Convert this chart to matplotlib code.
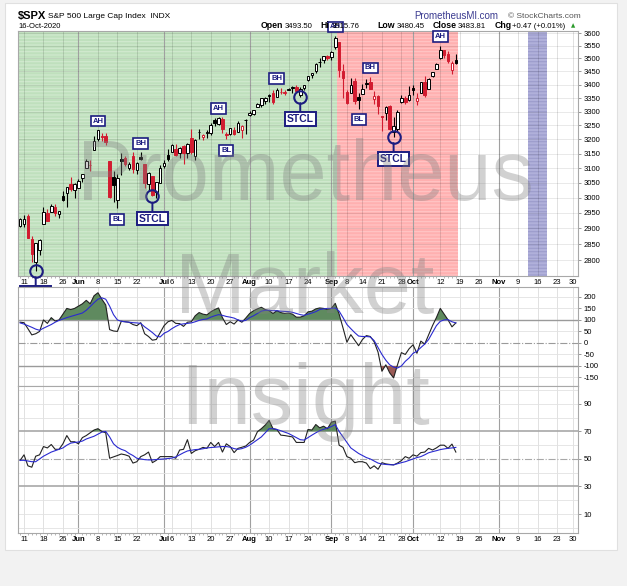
import matplotlib.pyplot as plt
import matplotlib.patches as mpatches
from matplotlib.ticker import NullLocator, NullFormatter
import numpy as np
import pandas as pd

# ---------------- data ----------------
holidays = ['2020-05-25', '2020-07-03', '2020-09-07', '2020-11-26']
prev_close = 2881.19

opens = [2908.83, 2915.46, 2939.50, 2865.86, 2794.54, 2829.95, 2913.86, 2948.59, 2953.63, 2969.95, 2948.05,
         3004.08, 3015.65, 3046.61, 3025.17,
         3031.00, 3064.78, 3098.90, 3111.56, 3163.84, 3199.92, 3213.32, 3213.42, 3123.53, 3071.04,
         2993.76, 3131.00, 3136.13, 3101.64, 3140.29, 3094.42, 3138.70, 3114.40, 3046.60, 3073.20,
         3018.59, 3050.20,
         3105.92, 3143.64, 3155.29, 3166.44, 3153.07, 3176.17, 3152.47, 3205.08, 3141.11, 3225.98,
         3208.36, 3224.21, 3224.29, 3268.52, 3254.86, 3271.64, 3218.58, 3219.84, 3234.27, 3227.22,
         3231.76, 3270.45,
         3288.26, 3289.92, 3317.37, 3323.17, 3340.05, 3356.04, 3370.34, 3355.46, 3372.95, 3368.66,
         3380.86, 3387.04, 3392.51, 3360.48, 3386.01, 3418.09, 3435.95, 3449.97, 3485.14, 3494.69,
         3509.73,
         3507.44, 3543.76, 3564.74, 3453.60, 3371.88, 3369.82, 3412.56, 3352.70, 3363.56, 3407.73,
         3411.23, 3346.86, 3357.38, 3285.57, 3295.75, 3320.11, 3226.14, 3236.66, 3333.90, 3350.92,
         3341.21,
         3385.87, 3338.94, 3367.27, 3408.74, 3384.56, 3434.28, 3459.67, 3500.02, 3534.01, 3515.47,
         3453.72, 3493.50]
highs = [2932.16, 2944.25, 2945.82, 2874.14, 2852.80, 2865.01, 2968.09, 2964.21, 2980.29, 2978.50, 2956.76,
         3021.72, 3036.25, 3068.67, 3049.17,
         3062.18, 3081.07, 3130.94, 3128.91, 3211.72, 3233.13, 3222.71, 3223.27, 3123.53, 3088.42,
         3079.76, 3153.45, 3141.16, 3120.00, 3155.53, 3120.92, 3154.90, 3115.01, 3086.25, 3073.73,
         3053.89, 3111.51,
         3128.44, 3165.81, 3182.59, 3184.15, 3171.80, 3179.78, 3186.82, 3235.32, 3200.95, 3238.28,
         3220.39, 3233.52, 3258.61, 3277.29, 3279.32, 3279.99, 3227.26, 3241.43, 3243.72, 3264.74,
         3250.92, 3272.17,
         3302.73, 3306.84, 3330.77, 3351.03, 3352.54, 3363.29, 3381.01, 3387.89, 3387.24, 3378.51,
         3387.59, 3395.06, 3399.54, 3390.80, 3399.96, 3432.09, 3444.21, 3481.07, 3501.38, 3509.23,
         3514.77,
         3528.03, 3588.11, 3564.85, 3479.15, 3379.97, 3424.77, 3425.55, 3368.95, 3402.93, 3419.48,
         3428.92, 3375.17, 3362.27, 3285.57, 3320.31, 3323.35, 3278.70, 3306.88, 3360.74, 3357.92,
         3393.56,
         3397.18, 3369.10, 3409.57, 3431.56, 3426.26, 3447.28, 3482.34, 3549.85, 3534.01, 3527.94,
         3489.08, 3515.76]
lows = [2902.88, 2903.44, 2869.59, 2793.15, 2766.64, 2816.78, 2913.86, 2922.35, 2953.63, 2938.57, 2933.59,
        2988.17, 2969.75, 3023.40, 2998.61,
        3031.00, 3051.64, 3098.90, 3090.41, 3163.84, 3196.00, 3193.11, 3181.49, 2999.49, 2984.47,
        2965.66, 3076.06, 3108.03, 3093.51, 3083.11, 3079.39, 3127.12, 3032.13, 3024.01, 3004.63,
        2999.74, 3047.83,
        3101.17, 3124.52, 3155.29, 3142.93, 3136.53, 3115.70, 3136.22, 3149.43, 3127.66, 3200.76,
        3198.59, 3205.65, 3215.16, 3247.77, 3253.10, 3222.66, 3200.05, 3214.25, 3216.17, 3227.22,
        3204.13, 3220.26,
        3284.53, 3286.37, 3317.37, 3318.14, 3328.72, 3335.44, 3326.44, 3355.46, 3363.35, 3361.64,
        3379.22, 3370.15, 3369.66, 3354.69, 3379.31, 3413.13, 3425.84, 3444.15, 3468.35, 3484.32,
        3493.25,
        3494.60, 3535.23, 3427.41, 3349.63, 3329.27, 3366.84, 3329.25, 3310.47, 3363.56, 3389.25,
        3384.45, 3328.82, 3292.40, 3229.10, 3270.95, 3232.57, 3209.45, 3228.44, 3332.91, 3327.54,
        3340.47,
        3361.39, 3323.69, 3367.27, 3354.54, 3384.56, 3428.15, 3458.07, 3499.61, 3500.86, 3480.55,
        3440.89, 3480.45]
closes = [2929.80, 2930.32, 2870.12, 2820.00, 2852.50, 2863.70, 2953.91, 2922.94, 2971.61, 2948.51, 2955.45,
          2991.77, 3036.13, 3029.73, 3044.31,
          3055.73, 3080.82, 3122.87, 3112.35, 3193.93, 3232.39, 3207.18, 3190.14, 3002.10, 3041.31,
          3066.59, 3124.74, 3113.49, 3115.34, 3097.74, 3117.86, 3131.29, 3050.33, 3083.76, 3009.05,
          3053.24, 3100.29,
          3115.86, 3130.01, 3179.72, 3145.32, 3169.94, 3152.05, 3185.04, 3155.22, 3197.52, 3226.56,
          3215.57, 3224.73, 3251.84, 3257.30, 3276.02, 3235.66, 3215.63, 3239.41, 3218.44, 3258.44,
          3246.22, 3271.12,
          3294.61, 3306.51, 3327.77, 3349.16, 3351.28, 3360.47, 3333.69, 3380.35, 3373.43, 3372.85,
          3381.99, 3389.78, 3374.85, 3385.51, 3397.16, 3431.28, 3443.62, 3478.73, 3484.55, 3508.01,
          3500.31,
          3526.65, 3580.84, 3455.06, 3426.96, 3331.84, 3398.96, 3339.19, 3340.97, 3383.54, 3401.20,
          3385.49, 3357.01, 3319.47, 3281.06, 3315.57, 3236.92, 3246.59, 3298.46, 3351.60, 3335.47,
          3363.00,
          3380.80, 3348.42, 3408.60, 3360.97, 3419.44, 3446.83, 3477.14, 3534.22, 3511.93, 3488.67,
          3483.34, 3483.81]

cci = [90, 88, 62, 35, 40, 50, 100, 85, 110, 95, 100, 125, 150, 145, 150,
       160, 170, 185, 170, 205, 218, 190, 165, 58, 52, 50, 94, 92, 90, 80, 75, 88, 40, 28, 12, 15, 45,
       75, 92, 98, 85, 84, 72, 90, 92, 118, 132, 125, 122, 135, 145, 152, 110, 80, 92, 82, 100, 90, 108,
       128, 140, 148, 155, 145, 140, 128, 140, 132, 128, 130, 125, 112, 112, 118, 135, 138, 148, 152, 150, 145,
       150, 172, 125, 65, 3, 36, 12, -12, 15, 32, 28, 5, -40, -123, -95, -130, -152, -95, -42, -50, -25,
       -8, -45, 8, -5, 35, 75, 110, 150, 125, 100, 70, 87]
cci_sig = [87, 82, 75, 68, 60, 55, 64, 72, 80, 90, 98, 104, 110, 115, 120,
           125, 130, 142, 158, 175, 190, 196, 190, 160, 123, 100, 94, 92, 90, 88, 87, 85, 70, 58, 45, 30, 26,
           42, 50, 62, 72, 80, 83, 85, 87, 92, 98, 102, 104, 112, 118, 123, 120, 115, 112, 108, 100, 95, 98,
           110, 118, 128, 138, 142, 142, 140, 140, 138, 137, 136, 133, 128, 123, 120, 125, 130, 136, 145, 148, 150,
           150, 152, 138, 110, 80, 62, 45, 30, 28, 28, 26, 10, -20, -50, -75, -95, -105, -109, -100, -80, -65,
           -45, -36, -20, -5, 15, 45, 75, 94, 100, 101, 92, 87]
rsi = [49, 53, 45, 44, 52, 53, 59, 58, 60.5, 57, 57, 61, 67, 62.5, 62.5,
       61, 65.5, 67, 69, 71, 72, 70, 69, 50.5, 51.5, 52.5, 53.6, 53, 52, 47, 48, 51.7, 53, 55, 47.3, 49, 51.7,
       51.7, 51.7, 51.7, 50.5, 56.5, 57, 64, 54, 56, 57, 58.4, 57.7, 62, 59, 62, 55, 61, 59, 54.6, 57.7, 58.5, 59.4,
       62, 63.7, 69.8, 72, 74.6, 78, 72, 71.4, 67.3, 67, 66.5, 66, 62, 62, 62, 71.4, 71, 75, 72.6, 73.8, 72,
       76.7, 77.5, 60, 58.4, 51.7, 50.5, 47.3, 48, 48, 47, 43, 45, 42.5, 47.3, 46.4, 46, 45.7, 47, 48.8, 51.7, 50.5,
       53, 52, 54.6, 55, 57.7, 56.5, 58, 60, 60, 57.7, 60.8, 55]
rsi_sig = [49, 49, 48.5, 48, 48, 50, 52, 53.5, 55, 56, 57, 58, 60, 61.5, 62,
           62.3, 63, 64.5, 65.5, 66.5, 68, 69.5, 70, 66, 61, 58.5, 57, 56, 54, 52.5, 50.5, 50, 49.5, 49.3, 49.3, 49.6, 49.8,
           50, 50.3, 50.6, 51.5, 53, 54.5, 55.8, 56.3, 56.8, 57, 57.4, 58, 58.3, 58.5, 58.8, 59, 59, 58.5, 57.5, 57, 57.5, 58.5,
           60, 62, 64, 66, 69, 72, 72, 71.4, 70.5, 69.5, 68.5, 67, 65.5, 64, 63.7, 65.5, 67.3, 69, 70.5, 71.5, 72.5,
           73.5, 75, 70, 66, 62, 58, 56, 54, 52.5, 51, 50, 48.5, 47, 46.3, 46, 45.8, 45.7, 46.5, 47.3, 48, 49,
           50, 51, 51.7, 53, 54.5, 55.3, 56, 56.8, 57.3, 57.7, 58, 58.4]

# shaded regimes: (first day, last day, fill colour, stripe colour)
regimes = [(None, '2020-09-02', '#bfe0bd', '#d2ead0'),
           ('2020-09-03', '2020-10-16', '#ffb0b0', '#ffc6c6'),
           ('2020-11-12', '2020-11-18', '#b0b0da', '#9c9ccc')]

# markup labels on the price pane
marks = [('2020-05-14', 'STCL'), ('2020-06-08', 'AH'), ('2020-06-23', 'BH'), ('2020-06-15', 'BL'),
         ('2020-06-26', 'STCL'), ('2020-07-22', 'AH'), ('2020-07-24', 'BL'), ('2020-08-12', 'BH'),
         ('2020-08-20', 'STCL'), ('2020-09-02', 'AH'), ('2020-09-16', 'BH'), ('2020-09-11', 'BL'),
         ('2020-09-24', 'STCL'), ('2020-10-12', 'AH')]

xlabels = [('2020-05-11', '11'), ('2020-05-18', '18'), ('2020-05-26', '26'), ('2020-06-01', 'Jun'),
           ('2020-06-08', '8'), ('2020-06-15', '15'), ('2020-06-22', '22'), ('2020-07-01', 'Jul'),
           ('2020-07-06', '6'), ('2020-07-13', '13'), ('2020-07-20', '20'), ('2020-07-27', '27'),
           ('2020-08-03', 'Aug'), ('2020-08-10', '10'), ('2020-08-17', '17'), ('2020-08-24', '24'),
           ('2020-09-01', 'Sep'), ('2020-09-08', '8'), ('2020-09-14', '14'), ('2020-09-21', '21'),
           ('2020-09-28', '28'), ('2020-10-01', 'Oct'), ('2020-10-12', '12'), ('2020-10-19', '19'),
           ('2020-10-26', '26'), ('2020-11-02', 'Nov'), ('2020-11-09', '9'), ('2020-11-16', '16'),
           ('2020-11-23', '23'), ('2020-11-30', '30')]
months = ['Jun', 'Jul', 'Aug', 'Sep', 'Oct', 'Nov']

price_ticks = list(range(2800, 3601, 50))
cci_ticks = [200, 150, 100, 50, 0, -50, -100, -150]
rsi_ticks = [90, 70, 50, 30, 10]

# ---------------- setup ----------------
days = pd.bdate_range('2020-05-08', '2020-12-02')
days = days[~days.isin(pd.to_datetime(holidays))]
pos = {d.strftime('%Y-%m-%d'): n for n, d in enumerate(days)}
x = np.arange(len(closes))
opens, highs, lows, closes = map(np.array, (opens, highs, lows, closes))
cci, cci_sig, rsi, rsi_sig = map(np.array, (cci, cci_sig, rsi, rsi_sig))

W, H = 627, 586
plt.rcParams['font.family'] = ['Liberation Sans', 'DejaVu Sans']
plt.rcParams['hatch.linewidth'] = 0.8
fig = plt.figure(figsize=(W / 100, H / 100), dpi=100, facecolor='#f2f2f2')
fig.patches.append(mpatches.Rectangle((5 / W, 1 - 550 / H), 612 / W, 547 / H, transform=fig.transFigure,
                                      facecolor='white', edgecolor='#e0e0e0', lw=0.8, zorder=-10))

def fx(px):
    return px / W

def fy(py):
    return 1 - py / H

L, R = 18, 578
ax1 = fig.add_axes([fx(L), fy(276), (R - L) / W, 245 / H])
ax2 = fig.add_axes([fx(L), fy(386), (R - L) / W, 99 / H])
ax3 = fig.add_axes([fx(L), fy(533), (R - L) / W, 147 / H])
xmin, xmax = -0.55, 143.4
navy = '#1c1c80'
red = '#d21c30'

tick_pos = [pos[d] for d, _ in xlabels]
for ax in (ax1, ax2, ax3):
    ax.set_xlim(xmin, xmax)
    ax.set_facecolor('white')
    for s in ax.spines.values():
        s.set_color('#a8a8a8')
        s.set_linewidth(0.8)
    for (d, lab), p in zip(xlabels, tick_pos):
        if lab in months:
            ax.axvline(p, color='#a0a0a0', lw=0.8, zorder=1)
        else:
            ax.axvline(p, color='#000000', alpha=0.14, lw=0.6, zorder=1)
    ax.yaxis.tick_right()
    ax.tick_params(axis='y', length=2, width=0.6, pad=2, labelsize=5.5, color='#888888')
    ax.set_xticks(tick_pos)
    ax.set_xticks(x, minor=True)
    ax.tick_params(axis='x', which='major', length=0, pad=2, labelsize=5.5)
    ax.tick_params(axis='x', which='minor', length=1.2, width=0.5, color='#999999')

for ax in (ax1, ax3):
    ax.set_xticklabels([lab for _, lab in xlabels])
    for t in ax.get_xticklabels():
        if t.get_text() in months:
            t.set_fontweight('bold')
ax2.set_xticklabels([])
ax2.tick_params(axis='x', which='minor', length=0)

# ---------------- price pane ----------------
ax1.set_yscale('log')
ax1.set_ylim(2751, 3608)
ax1.yaxis.set_minor_locator(NullLocator())
ax1.yaxis.set_minor_formatter(NullFormatter())
ax1.set_yticks(price_ticks, labels=[str(t) for t in price_ticks])
for t in price_ticks:
    ax1.axhline(t, color='#000000', alpha=0.1, lw=0.6, zorder=1)

for start, end, col, stripe in regimes:
    a = xmin if start is None else pos[start] - 0.5
    b = pos[end] + 0.5
    ax1.axvspan(a, b, facecolor=col, edgecolor=stripe, hatch='-----', lw=0, zorder=0)

prev = np.concatenate([[prev_close], closes[:-1]])
for i in x:
    col = 'black' if closes[i] >= prev[i] else red
    ax1.vlines(i, lows[i], highs[i], color=col, lw=0.8, zorder=3)
    lo, hi = sorted((opens[i], closes[i]))
    face = 'white' if closes[i] > opens[i] else col
    ax1.add_patch(mpatches.Rectangle((i - 0.33, lo), 0.66, max(hi - lo, 0.8), facecolor=face,
                                     edgecolor=col, lw=0.7, zorder=4))

for d, kind in marks:
    i = pos[d]
    if kind in ('AH', 'BH'):
        ax1.annotate(kind, (i, highs[i]), xytext=(0, 6.5), textcoords='offset points', ha='center',
                     va='center', fontsize=5.5, color=navy, fontweight='bold', zorder=7, annotation_clip=False,
                     bbox=dict(boxstyle='square,pad=0.25', fc='white', ec=navy, lw=1.2))
    elif kind == 'BL':
        ax1.annotate(kind, (i, lows[i]), xytext=(0, -8), textcoords='offset points', ha='center',
                     va='center', fontsize=5.5, color=navy, fontweight='bold', zorder=7, annotation_clip=False,
                     bbox=dict(boxstyle='square,pad=0.25', fc='white', ec=navy, lw=1.2))
    else:
        ax1.plot(i, lows[i], 'o', ms=9, mfc='none', mec=navy, mew=1.5, zorder=6, clip_on=False)
        ax1.annotate(kind, (i, lows[i]), xytext=(0, -16), textcoords='offset points', ha='center',
                     va='center', fontsize=7.5, color=navy, fontweight='bold', zorder=7, annotation_clip=False,
                     bbox=dict(boxstyle='square,pad=0.18', fc='white', ec=navy, lw=1.4),
                     arrowprops=dict(arrowstyle='-', color=navy, lw=1.4, shrinkA=0, shrinkB=4.6))

# ---------------- CCI pane ----------------
ax2.set_ylim(-187, 243)
ax2.set_yticks(cci_ticks, labels=[str(t) for t in cci_ticks])
for t in [200, 150, 50, -50, -150]:
    ax2.axhline(t, color='#e2e2e2', lw=0.6, zorder=1)
ax2.axhline(100, color='#9a9a9a', lw=1.0, zorder=2)
ax2.axhline(-100, color='#9a9a9a', lw=1.0, zorder=2)
ax2.axhline(0, color='#9a9a9a', lw=0.8, ls='-.', zorder=2)
ax2.fill_between(x, cci, 100, where=cci >= 100, interpolate=True, color='#5f8a5f', lw=0, zorder=3)
ax2.fill_between(x, cci, -100, where=cci <= -100, interpolate=True, color='#9a5a56', lw=0, zorder=3)
ax2.plot(x, cci, color='#222222', lw=0.8, zorder=4)
ax2.plot(x, cci_sig, color='#2a2ad0', lw=0.8, zorder=5)

# ---------------- RSI pane ----------------
ax3.set_ylim(-3.8, 103)
ax3.set_yticks(rsi_ticks, labels=[str(t) for t in rsi_ticks])
for t in [0, 10, 20, 40, 60, 80, 90, 100]:
    ax3.axhline(t, color='#e2e2e2', lw=0.6, zorder=1)
ax3.axhline(70, color='#a8a8a8', lw=1.2, zorder=2)
ax3.axhline(30, color='#a8a8a8', lw=1.2, zorder=2)
ax3.axhline(50, color='#a8a8a8', lw=0.8, ls='-.', zorder=2)
ax3.fill_between(x, rsi, 70, where=rsi >= 70, interpolate=True, color='#5f8a5f', lw=0, zorder=3)
ax3.plot(x, rsi, color='#222222', lw=0.8, zorder=4)
ax3.plot(x, rsi_sig, color='#2a2ad0', lw=0.8, zorder=5)

# ---------------- header ----------------
fig.text(fx(18), fy(16), '$SPX', fontsize=8, fontweight='bold', va='center')
fig.text(fx(48), fy(16), 'S&P 500 Large Cap Index  INDX', fontsize=6, va='center')
fig.text(fx(18), fy(26), '16-Oct-2020', fontsize=5.5, va='center')
fig.text(fx(414), fy(16), 'PrometheusMI.com', fontsize=7, color='#3a3a90', va='center')
fig.text(fx(508), fy(16), '\u00a9 StockCharts.com', fontsize=6, color='#555555', va='center')
quote = [(261, 'Open', True), (285, '3493.50', False), (320, 'Hi', True), (332, '3515.76', False),
         (377, 'Low', True), (397, '3480.45', False), (433, 'Close', True), (458, '3483.81', False),
         (495, 'Chg', True), (512, '+0.47 (+0.01%)', False)]
for px, s, b in quote:
    fig.text(fx(px), fy(26), s, fontsize=6.3 if b else 5.6, fontweight='bold' if b else 'normal', va='center')
fig.text(fx(571), fy(26), '\u25b2', fontsize=4, color='#2a9a2a', va='center', family='DejaVu Sans')

# ---------------- watermark ----------------
for word, base in [('Prometheus', 200), ('Market', 313), ('Insight', 424)]:
    fig.text(fx(305), fy(base), word, fontsize=61, color='#808080', alpha=0.36, ha='center', va='baseline',
             zorder=20)

fig.savefig('out.png', dpi=100, facecolor=fig.get_facecolor())
